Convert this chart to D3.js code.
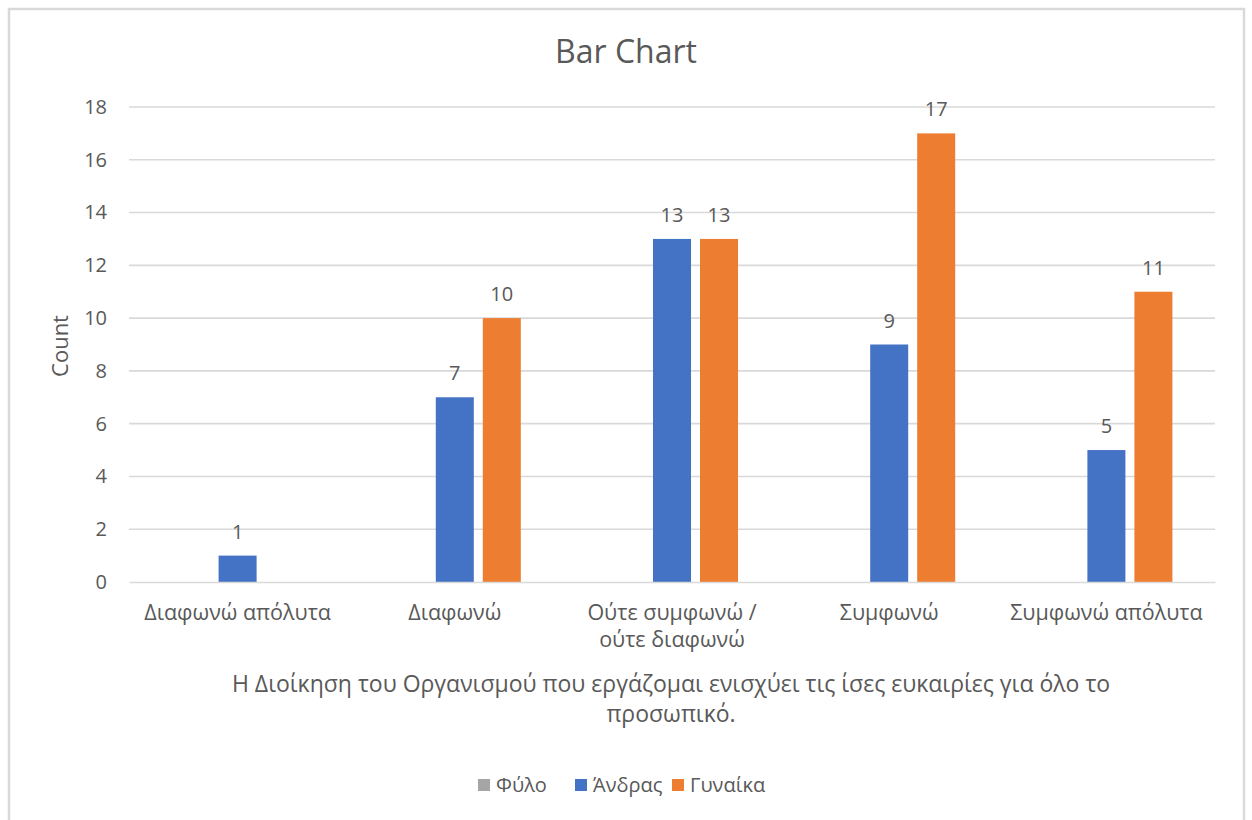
<!DOCTYPE html>
<html>
<head>
<meta charset="utf-8">
<script src="https://cdn.jsdelivr.net/npm/d3@7"></script>
<style>
  html, body { margin: 0; padding: 0; background: #fff; }
  svg { display: block; }
  text { font-family: "Open Sans", "Noto Sans", sans-serif; fill: #595959; }
</style>
</head>
<body>
<svg id="chart" width="1252" height="820"></svg>
<script>
// Response categories (x axis)
const categories = ["Διαφωνώ απόλυτα", "Διαφωνώ", "Ούτε συμφωνώ / ούτε διαφωνώ", "Συμφωνώ", "Συμφωνώ απόλυτα"];
// Category labels split into display lines
const categoryLines = [["Διαφωνώ απόλυτα"], ["Διαφωνώ"], ["Ούτε συμφωνώ /", "ούτε διαφωνώ"], ["Συμφωνώ"], ["Συμφωνώ απόλυτα"]];
// Series names and colours
const seriesNames = ["Φύλο", "Άνδρας", "Γυναίκα"];
const seriesColors = ["#A5A5A5", "#4472C4", "#ED7D31"];
// Counts per category for each series (null = no bar)
const fyloValues = [null, null, null, null, null];
const andrasValues = [1, 7, 13, 9, 5];
const gynaikaValues = [null, 10, 13, 17, 11];
// Y axis ticks
const yTicks = [0, 2, 4, 6, 8, 10, 12, 14, 16, 18];

const titleText = "Bar Chart";
const yAxisTitle = "Count";
const xAxisTitleLines = ["Η Διοίκηση του Οργανισμού που εργάζομαι ενισχύει τις ίσες ευκαιρίες για όλο το", "προσωπικό."];

const seriesValues = [fyloValues, andrasValues, gynaikaValues];

const svg = d3.select("#chart");
const plot = { left: 129, right: 1215, top: 107, bottom: 582 };

// outer chart frame
svg.append("rect")
  .attr("x", 9).attr("y", 9)
  .attr("width", 1235).attr("height", 840)
  .attr("fill", "#fff")
  .attr("stroke", "#d9d9d9").attr("stroke-width", 2.5);

const x0 = d3.scaleBand().domain(categories).range([plot.left, plot.right]).padding(0);
const groupW = 141;
const x1 = d3.scaleBand().domain(seriesNames).range([0, groupW]).paddingInner(9 / 47).paddingOuter(9 / 94);
const y = d3.scaleLinear().domain([0, 18]).range([plot.bottom, plot.top]);

// horizontal gridlines
svg.append("g").selectAll("line").data(yTicks.filter(t => t > 0)).join("line")
  .attr("x1", plot.left).attr("x2", plot.right)
  .attr("y1", d => y(d)).attr("y2", d => y(d))
  .attr("stroke", "#d9d9d9").attr("stroke-width", 1.6);

// y axis tick labels
const yAxis = d3.axisLeft(y).tickValues(yTicks).tickSize(0).tickPadding(22);
const gy = svg.append("g").attr("transform", `translate(${plot.left},0)`).call(yAxis);
gy.select(".domain").remove();
gy.selectAll("text").attr("font-size", 20).attr("fill", "#595959")
  .style("font-family", "'Open Sans', 'Noto Sans', sans-serif");

// bars
const groups = svg.append("g").selectAll("g").data(categories).join("g")
  .attr("transform", d => `translate(${x0(d) + x0.bandwidth() / 2 - groupW / 2},0)`);

groups.each(function (cat, ci) {
  const g = d3.select(this);
  seriesNames.forEach((s, si) => {
    const v = seriesValues[si][ci];
    if (v == null) return;
    g.append("rect")
      .attr("x", x1(s)).attr("width", x1.bandwidth())
      .attr("y", y(v)).attr("height", y(0) - y(v))
      .attr("fill", seriesColors[si]);
    g.append("text")
      .attr("x", x1(s) + x1.bandwidth() / 2)
      .attr("y", y(v) - 17)
      .attr("text-anchor", "middle")
      .attr("font-size", 20)
      .attr("fill", "#404040")
      .text(v);
  });
});

// x axis baseline
const xAxis = d3.axisBottom(x0).tickSize(0).tickFormat("");
const gx = svg.append("g").attr("transform", `translate(0,${plot.bottom})`).call(xAxis);
gx.select(".domain").attr("stroke", "#d9d9d9").attr("stroke-width", 1.6);

// category labels
const catLabels = svg.append("g").selectAll("text").data(categories).join("text")
  .attr("text-anchor", "middle")
  .attr("font-size", 21.5)
  .attr("x", d => x0(d) + x0.bandwidth() / 2)
  .attr("y", 620);
catLabels.each(function (d, i) {
  const t = d3.select(this);
  categoryLines[i].forEach((line, li) => {
    t.append("tspan").attr("x", x0(d) + x0.bandwidth() / 2).attr("dy", li === 0 ? 0 : 27).text(line);
  });
});

// chart title
svg.append("text")
  .attr("x", 626).attr("y", 63)
  .attr("text-anchor", "middle")
  .attr("font-size", 32)
  .text(titleText);

// y axis title
svg.append("text")
  .attr("transform", "translate(68,346) rotate(-90)")
  .attr("text-anchor", "middle")
  .attr("font-size", 22)
  .text(yAxisTitle);

// x axis title, one text element per line
xAxisTitleLines.forEach((line, i) => {
  svg.append("text")
    .attr("text-anchor", "middle")
    .attr("font-size", 23)
    .attr("x", 671)
    .attr("y", 692 + i * 30)
    .text(line);
});

// legend: equal-width slots in a centred row
const legendX = d3.scaleBand().domain(seriesNames).range([478, 478 + 97 * seriesNames.length]);
const legendItems = svg.append("g").attr("transform", "translate(0,785)")
  .selectAll("g").data(seriesNames).join("g")
  .attr("transform", d => `translate(${legendX(d)},0)`);
legendItems.append("rect").attr("width", 12).attr("height", 12).attr("y", -6)
  .attr("fill", (d, i) => seriesColors[i]);
legendItems.append("text").attr("x", 18).attr("y", 7).attr("font-size", 20).text(d => d);
</script>
</body>
</html>
